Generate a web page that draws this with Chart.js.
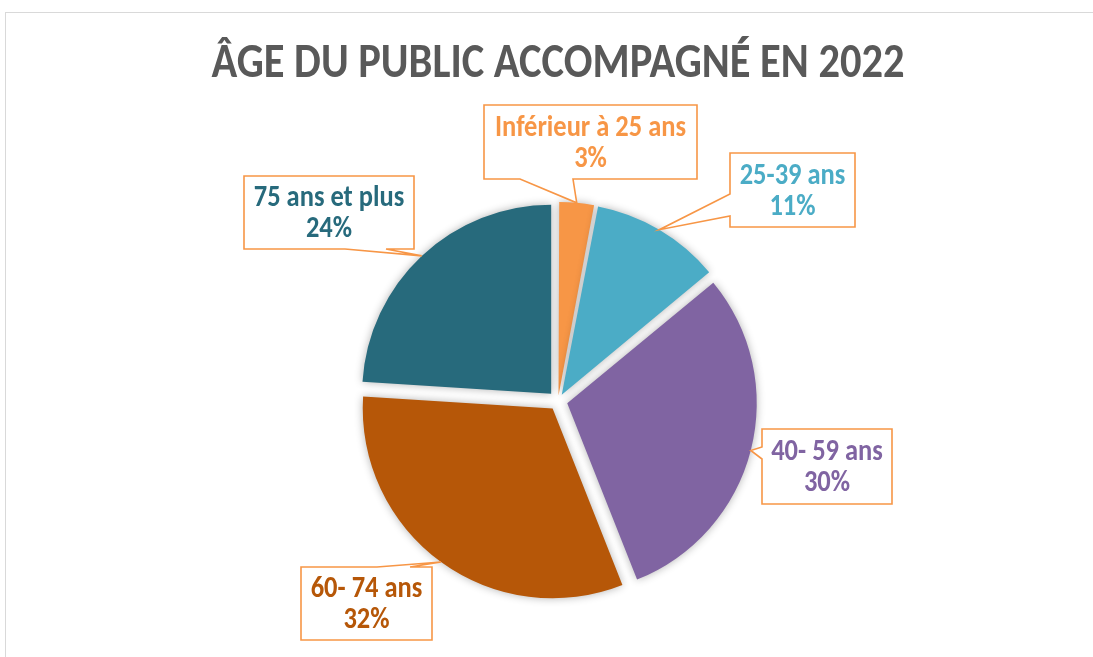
<!DOCTYPE html>
<html>
<head>
<meta charset="utf-8">
<script src="https://cdn.jsdelivr.net/npm/chart.js@4.4.0/dist/chart.umd.min.js"></script>
<style>
  html, body { margin: 0; padding: 0; background: #fff; }
  #wrap { position: relative; width: 1093px; height: 657px; overflow: hidden; }
  #frame { position: absolute; left: 5px; top: 12px; width: 1200px; height: 800px; border: 1px solid #d9d9d9; box-sizing: border-box; }
  canvas { position: absolute; left: 0; top: 0; }
</style>
</head>
<body>
<div id="wrap">
  <div id="frame"></div>
  <canvas id="ageChart" width="1093" height="657"></canvas>
</div>
<script>
const chartTitle = 'ÂGE DU PUBLIC ACCOMPAGNÉ EN 2022';
const labels = ['Inférieur à 25 ans', '25-39 ans', '40- 59 ans', '60- 74 ans', '75 ans et plus'];
const values = [3, 11, 30, 32, 24];
const colors = ['#F79646', '#4BACC6', '#8064A2', '#B65708', '#276A7C'];

// callout boxes (same order as the data), pointer base on one side
const boxes = [
  { x: 484, y: 105, w: 213, h: 74, side: 'bottom', a: 520, b: 573 },
  { x: 730, y: 153, w: 125, h: 74, side: 'left', a: 194, b: 216 },
  { x: 762, y: 429, w: 130, h: 75, side: 'left', a: 447, b: 459 },
  { x: 301, y: 567, w: 131, h: 73, side: 'top', a: 377, b: 410 },
  { x: 244, y: 176, w: 170, h: 73, side: 'bottom', a: 345, b: 386 }
];

const FONT = 'Carlito, Calibri, Lato, sans-serif';
const SQUEEZE = 0.88; // Calibri is narrower than the fallback font
const SHIFT = 10;     // how far each slice is pulled out

function fitSize(ctx, text, target, weight) {
  ctx.font = weight + ' 40px ' + FONT;
  return 40 * target / (ctx.measureText(text).width * SQUEEZE);
}

function narrowText(ctx, text, x, y) {
  ctx.save();
  ctx.translate(x, y);
  ctx.scale(SQUEEZE, 1);
  ctx.fillText(text, 0, 0);
  ctx.restore();
}

function calloutPath(ctx, bx, tip) {
  const l = bx.x, t = bx.y, r = bx.x + bx.w, b = bx.y + bx.h;
  ctx.beginPath();
  ctx.moveTo(l, t);
  if (bx.side === 'top') { ctx.lineTo(bx.a, t); ctx.lineTo(tip.x, tip.y); ctx.lineTo(bx.b, t); }
  ctx.lineTo(r, t);
  ctx.lineTo(r, b);
  if (bx.side === 'bottom') { ctx.lineTo(bx.b, b); ctx.lineTo(tip.x, tip.y); ctx.lineTo(bx.a, b); }
  ctx.lineTo(l, b);
  if (bx.side === 'left') { ctx.lineTo(l, bx.b); ctx.lineTo(tip.x, tip.y); ctx.lineTo(l, bx.a); }
  ctx.closePath();
}

const shadowPlugin = {
  id: 'sliceShadow',
  beforeDatasetsDraw(chart) {
    const ctx = chart.ctx;
    ctx.save();
    ctx.shadowColor = 'rgba(0,0,0,0.3)';
    ctx.shadowBlur = 8;
  },
  afterDatasetsDraw(chart) {
    chart.ctx.restore();
  }
};

const calloutPlugin = {
  id: 'callouts',
  afterDraw(chart) {
    const ctx = chart.ctx;
    const meta = chart.getDatasetMeta(0);
    const total = values.reduce((s, v) => s + v, 0);

    // title
    ctx.save();
    const ts = fitSize(ctx, chartTitle, 693, 'bold');
    ctx.font = 'bold ' + ts.toFixed(1) + 'px ' + FONT;
    ctx.fillStyle = '#595959';
    ctx.textAlign = 'center';
    ctx.textBaseline = 'alphabetic';
    narrowText(ctx, chartTitle, 558, 77);

    const ls = fitSize(ctx, labels[0], 191, 'bold');
    meta.data.forEach((el, i) => {
      const p = el.getProps(['x', 'y', 'startAngle', 'endAngle', 'outerRadius']);
      const mid = (p.startAngle + p.endAngle) / 2;
      const o = (el.options.offset || 0) / 4;
      const fix = 1 - Math.sin(Math.min(Math.PI, p.endAngle - p.startAngle));
      const d = o + o * fix + p.outerRadius;
      const tip = { x: p.x + Math.cos(mid) * d, y: p.y + Math.sin(mid) * d };
      const bx = boxes[i];

      calloutPath(ctx, bx, tip);
      ctx.fillStyle = '#ffffff';
      ctx.fill();
      ctx.lineWidth = 1.6;
      ctx.strokeStyle = '#F79646';
      ctx.lineJoin = 'miter';
      ctx.stroke();

      const cx = bx.x + bx.w / 2, cy = bx.y + bx.h / 2;
      ctx.font = 'bold ' + ls.toFixed(1) + 'px ' + FONT;
      ctx.fillStyle = colors[i];
      ctx.textBaseline = 'middle';
      narrowText(ctx, labels[i], cx, cy - 14);
      narrowText(ctx, Math.round(values[i] / total * 100) + '%', cx, cy + 17);
    });
    ctx.restore();
  }
};

new Chart(document.getElementById('ageChart'), {
  type: 'pie',
  data: {
    labels: labels,
    datasets: [{
      data: values,
      backgroundColor: colors,
      borderWidth: 0,
      hoverBorderWidth: 0,
      hoverOffset: 0,
      offset: (c) => {
        if (c.raw === undefined) return 4 * SHIFT;
        const total = values.reduce((s, v) => s + v, 0);
        const circ = c.raw / total * 2 * Math.PI;
        return 4 * SHIFT / (2 - Math.sin(Math.min(Math.PI, circ)));
      }
    }]
  },
  options: {
    responsive: false,
    animation: false,
    events: [],
    layout: { padding: { top: 192, bottom: 47, left: 250, right: 227 } },
    plugins: {
      legend: { display: false },
      tooltip: { enabled: false },
      title: { display: false }
    }
  },
  plugins: [shadowPlugin, calloutPlugin]
});
</script>
</body>
</html>
